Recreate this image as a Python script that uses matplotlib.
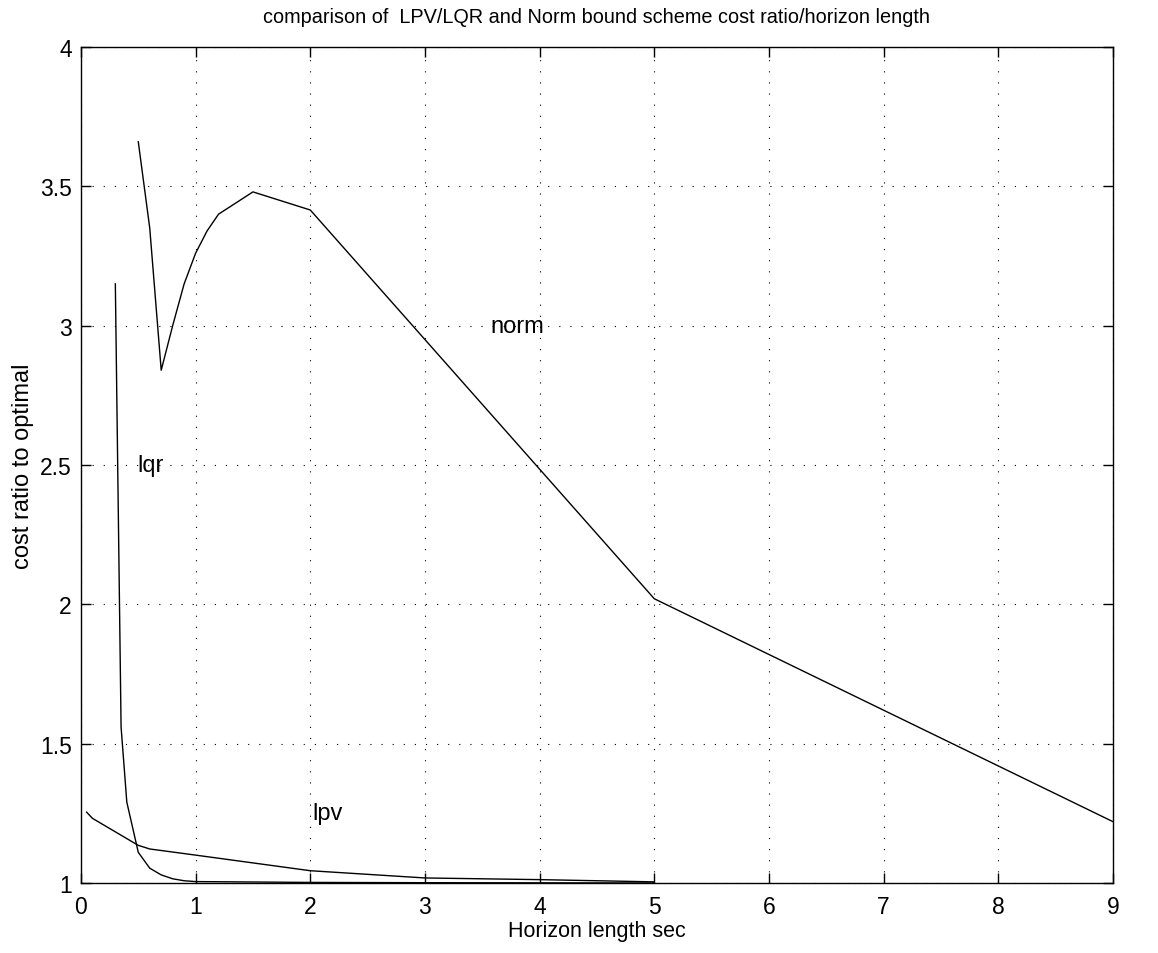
import numpy as np
import matplotlib.pyplot as plt

plt.rcParams['font.family'] = ['Liberation Sans', 'DejaVu Sans']

# norm bound scheme
norm_x = [0.5, 0.6, 0.7, 0.8, 0.9, 1.0, 1.1, 1.2, 1.5, 2.0, 5.0, 9.0]
norm_y = [3.66, 3.35, 2.84, 3.0, 3.15, 3.26, 3.34, 3.40, 3.48, 3.415, 2.02, 1.22]

# lqr
lqr_x = [0.3, 0.35, 0.4, 0.5, 0.6, 0.7, 0.8, 0.9, 1.0, 2.0, 3.0, 5.0]
lqr_y = [3.15, 1.56, 1.29, 1.11, 1.053, 1.029, 1.015, 1.008, 1.005, 1.002, 1.001, 1.0]

# lpv
lpv_x = [0.05, 0.1, 0.5, 0.6, 1.0, 2.0, 3.0, 4.0, 5.0]
lpv_y = [1.254, 1.232, 1.135, 1.122, 1.10, 1.044, 1.018, 1.012, 1.004]

fig = plt.figure(figsize=(11.58, 9.54), dpi=100)
ax = fig.add_axes([0.0699, 0.0734, 0.8912, 0.8763])

ax.plot(norm_x, norm_y, color='k', lw=1.0)
ax.plot(lqr_x, lqr_y, color='k', lw=1.0)
ax.plot(lpv_x, lpv_y, color='k', lw=1.0)

ax.text(3.57, 3.0, 'norm', fontsize=17, va='center', ha='left')
ax.text(0.49, 2.5, 'lqr', fontsize=17, va='center', ha='left')
ax.text(2.02, 1.25, 'lpv', fontsize=17, va='center', ha='left')

ax.set_xlim(0, 9)
ax.set_ylim(1, 4)
ax.set_xticks(range(0, 10))
ax.set_yticks([1, 1.5, 2, 2.5, 3, 3.5, 4])
ax.set_yticklabels(['1', '1.5', '2', '2.5', '3', '3.5', '4'])
ax.tick_params(direction='in', length=7, labelsize=16.5, top=True, right=True, width=1)
ax.tick_params(axis='x', pad=9)
ax.tick_params(axis='y', pad=6.5)
ax.grid(True, linestyle=(0, (1, 9)), color='k', lw=0.8)
for s in ax.spines.values():
    s.set_linewidth(1.0)

ax.set_xlabel('Horizon length sec', fontsize=15.5, labelpad=1)
ax.set_ylabel('cost ratio to optimal', fontsize=17, labelpad=4)
ax.set_title('comparison of  LPV/LQR and Norm bound scheme cost ratio/horizon length',
             fontsize=14.3, pad=18)

fig.savefig('out.png', dpi=100)
